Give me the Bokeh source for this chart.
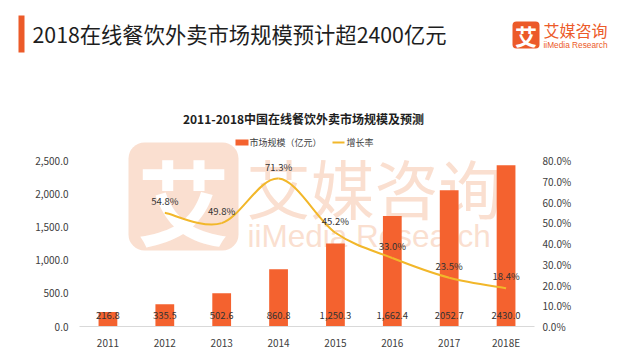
from bokeh.plotting import figure
from bokeh.models import (Range1d, LinearAxis, FixedTicker, NumeralTickFormatter, PrintfTickFormatter,
                          ColumnDataSource, LabelSet, Label, BoxAnnotation)
from bokeh.core.properties import value
from bokeh.embed import file_html
from bokeh.resources import INLINE

# ---------------- data ----------------
years = ["2011", "2012", "2013", "2014", "2015", "2016", "2017", "2018E"]
market = [216.8, 335.5, 502.6, 860.8, 1250.3, 1662.4, 2052.7, 2430.0]
market_labels = ["216.8", "335.5", "502.6", "860.8", "1,250.3", "1,662.4", "2052.7", "2430.0"]
growth_years = ["2012", "2013", "2014", "2015", "2016", "2017", "2018E"]
growth = [54.8, 49.8, 71.3, 45.2, 33.0, 23.5, 18.4]
left_ticks = [0, 500, 1000, 1500, 2000, 2500]
right_ticks = [0, 10, 20, 30, 40, 50, 60, 70, 80]

main_title = "2018在线餐饮外卖市场规模预计超2400亿元"
chart_title = "2011-2018中国在线餐饮外卖市场规模及预测"
legend_bar = "市场规模（亿元）"
legend_line = "增长率"

# ---------------- style ----------------
FONT = "Noto Sans CJK SC"
BAR = "#F4622F"
LINE = "#F2B72A"
ORANGE = "#EC5A29"
WM = "#FADFD0"
TXT = "#404040"

W = 617
H1 = 132             # header height (page y 0..132)
L, R = 79, W - 534   # main frame spans page x 79..534
AXIS_TOP = 160       # page y of the 2500 / 80% gridline level
FB = 326             # page y of the zero line
FH = FB - H1         # main frame page y 132..326
B = 34
H2 = FH + B
LEFT_MAX = 2500.0
RIGHT_MAX = 80.0
# extend the ranges so that the top tick sits at AXIS_TOP while the frame reaches up to H1
left_end = LEFT_MAX * FH / (FB - AXIS_TOP)
right_end = RIGHT_MAX * FH / (FB - AXIS_TOP)


# ---------- helpers: page pixel -> frame-relative screen units ----------
def hx(x):
    return x


def hy(y):
    return H1 - y


def mx(x):
    return x - L


def my(y):
    return FB - y


def box(fig, fx, fy, l, r, t, b, color, radius=0, level="annotation"):
    fig.add_layout(BoxAnnotation(left=fx(l), right=fx(r), top=fy(t), bottom=fy(b),
                                 left_units="screen", right_units="screen",
                                 top_units="screen", bottom_units="screen",
                                 fill_color=color, fill_alpha=1, line_color=None,
                                 border_radius=radius, level=level))


def text(fig, fx, fy, x, y, s, size, color, font=FONT, style="normal", align="left", level="annotation"):
    fig.add_layout(Label(x=fx(x), y=fy(y), x_units="screen", y_units="screen", text=s,
                         text_font=font, text_font_size=size, text_font_style=style, text_color=color,
                         text_align=align, text_baseline="middle", level=level))


# ================= header figure =================
hdr = figure(width=W, height=H1, output_backend="svg", toolbar_location=None,
             x_range=Range1d(0, W), y_range=Range1d(0, H1),
             x_axis_location=None, y_axis_location=None,
             min_border_left=0, min_border_right=0, min_border_top=0, min_border_bottom=0)
hdr.grid.visible = False
hdr.outline_line_color = None
hdr.background_fill_color = "white"
hdr.border_fill_color = "white"

box(hdr, hx, hy, 18, 24, 15, 52, ORANGE)
text(hdr, hx, hy, 32, 32.5, main_title, "21.3px", "#1E1E1E")
text(hdr, hx, hy, 303, 117.5, chart_title, "12px", "#1E1E1E", style="bold", align="center")

box(hdr, hx, hy, 512, 539, 21, 48, ORANGE, radius=4)
text(hdr, hx, hy, 525.5, 34, "艾", "22px", "white", style="bold", align="center")
text(hdr, hx, hy, 543, 29, "艾媒咨询", "16px", ORANGE)
text(hdr, hx, hy, 543, 44, "iiMedia Research", "8.3px", ORANGE, font="Liberation Sans")

# ================= main chart =================
p = figure(width=W, height=H2, output_backend="svg", toolbar_location=None,
           x_range=Range1d(-0.5, len(years) - 0.5), y_range=Range1d(0, left_end),
           min_border_left=L, min_border_right=R, min_border_top=0, min_border_bottom=B)
p.extra_y_ranges = {"pct": Range1d(0, right_end)}
p.grid.visible = False
p.outline_line_color = None
p.background_fill_color = "white"
p.border_fill_color = "white"

xa = p.xaxis[0]
xa.ticker = FixedTicker(ticks=list(range(len(years))))
xa.major_label_overrides = {i: y for i, y in enumerate(years)}
xa.axis_line_color = "#D9D9D9"

ya = p.yaxis[0]
ya.ticker = FixedTicker(ticks=left_ticks)
ya.formatter = NumeralTickFormatter(format="0,0.0")
ya.axis_line_color = None

ra = LinearAxis(y_range_name="pct", ticker=FixedTicker(ticks=right_ticks),
                formatter=PrintfTickFormatter(format="%.1f%%"))
ra.axis_line_color = None
p.add_layout(ra, "right")

for ax, standoff in ((xa, 8), (ya, 11), (ra, 8)):
    ax.major_tick_line_color = None
    ax.minor_tick_line_color = None
    ax.major_tick_out = 0
    ax.major_tick_in = 0
    ax.minor_tick_out = 0
    ax.minor_tick_in = 0
    ax.major_label_text_font = FONT
    ax.major_label_text_font_size = "10px"
    ax.major_label_text_color = TXT
    ax.major_label_standoff = standoff

# watermark (behind the data)
box(p, mx, my, 128, 238, 142, 250, WM, radius=16, level="underlay")
text(p, mx, my, 183, 198, "艾", "92px", "white", style="bold", align="center", level="underlay")
text(p, mx, my, 246, 185, "艾媒咨询", "64px", WM, level="underlay")
text(p, mx, my, 247, 235, "iiMedia Research", "31.5px", WM, font="Liberation Sans", level="underlay")

# legend
box(p, mx, my, 235, 248, 139, 145, BAR)
text(p, mx, my, 249, 142, legend_bar, "9px", TXT)
box(p, mx, my, 332, 344, 141, 143, LINE)
text(p, mx, my, 346, 142, legend_line, "9px", TXT)

xs = list(range(len(years)))
bsrc = ColumnDataSource(dict(x=xs, top=market, lab=market_labels, zero=[0] * len(xs)))
p.vbar(x="x", top="top", width=0.33, source=bsrc, fill_color=BAR, line_color=None)
p.add_layout(LabelSet(x="x", y="zero", text="lab", source=bsrc, y_offset=11,
                      text_font=value(FONT), text_font_size=value("9.5px"), text_color="#333333",
                      text_align="center", text_baseline="middle"))

# smoothed growth line (Catmull-Rom style Bezier segments through the data points)
gx = [years.index(g) for g in growth_years]
gy = growth
n = len(gx)
x0, y0, x1, y1, cx0, cy0, cx1, cy1 = [], [], [], [], [], [], [], []
for i in range(n - 1):
    pi = max(i - 1, 0)
    ni = min(i + 2, n - 1)
    x0.append(gx[i]); y0.append(gy[i]); x1.append(gx[i + 1]); y1.append(gy[i + 1])
    cx0.append(gx[i] + (gx[i + 1] - gx[pi]) / 6.0)
    cy0.append(gy[i] + (gy[i + 1] - gy[pi]) / 6.0)
    cx1.append(gx[i + 1] - (gx[ni] - gx[i]) / 6.0)
    cy1.append(gy[i + 1] - (gy[ni] - gy[i]) / 6.0)
p.bezier(x0=x0, y0=y0, x1=x1, y1=y1, cx0=cx0, cy0=cy0, cx1=cx1, cy1=cy1,
         y_range_name="pct", line_color=LINE, line_width=2)

gsrc = ColumnDataSource(dict(x=gx, y=gy, lab=[f"{v:.1f}%" for v in gy]))
p.add_layout(LabelSet(x="x", y="y", text="lab", source=gsrc, y_range_name="pct", y_offset=12,
                      text_font=value(FONT), text_font_size=value("9.5px"), text_color="#333333",
                      text_align="center", text_baseline="middle"))

open("out.html", "w").write(file_html([hdr, p], INLINE))
